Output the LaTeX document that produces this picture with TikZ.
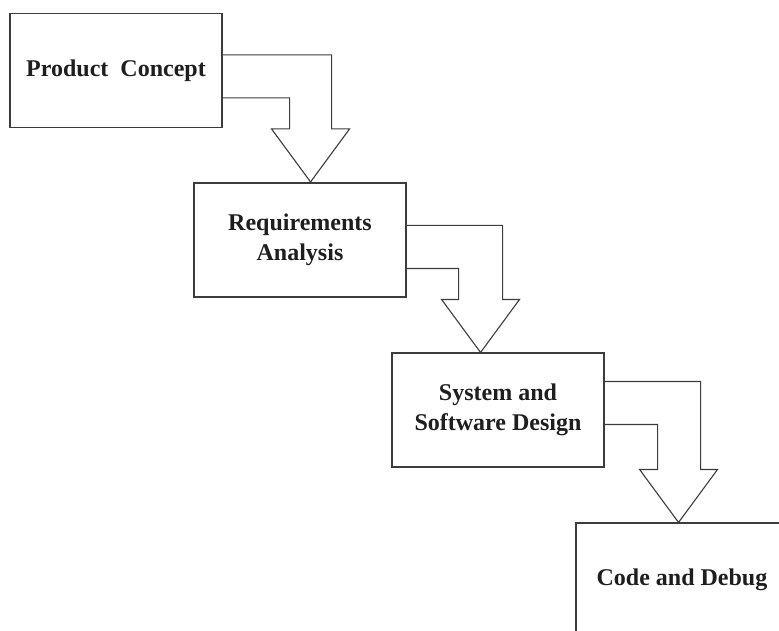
\documentclass[tikz,border=0pt]{standalone}
\usepackage{fontspec}
\setmainfont{Liberation Serif}
\usetikzlibrary{calc}
\definecolor{inkline}{HTML}{3C3C3C}
\definecolor{inktext}{HTML}{1E1E1E}

\begin{document}
\begin{tikzpicture}[x=1pt, y=-1pt,
  stagebox/.style={rectangle, draw=inkline, line width=1.1pt, minimum width=212pt, minimum height=114pt,
    align=center, text=inktext, font=\fontsize{24}{30}\selectfont\bfseries},
  flowarrow/.style={draw=inkline, line width=1.1pt, line join=miter},
]
\useasboundingbox (0,0) rectangle (779,631);
\clip (0,0) rectangle (779,631);

% STAGES
\node[stagebox] (b1) at (116,70.5) {Product\ \ Concept};
\node[stagebox] (b2) at (300,240) {Requirements\\Analysis};
\node[stagebox] (b3) at (498,410) {System and\\Software Design};
\node[stagebox] (b4) at (682,580) {Code and Debug};

% BENT BLOCK ARROWS
\draw[flowarrow] ($(b1.north east)+(0,42)$) -- ++(109,0) -- ++(0,74) -- ++(18,0)
  -- ++(-39,53) -- ++(-39,-53) -- ++(18,0) |- ($(b1.north east)+(0,85)$);
\draw[flowarrow] ($(b2.north east)+(0,43)$) -- ++(96,0) -- ++(0,74) -- ++(17,0)
  -- ++(-39,53) -- ++(-39,-53) -- ++(17,0) |- ($(b2.north east)+(0,86)$);
\draw[flowarrow] ($(b3.north east)+(0,29)$) -- ++(96,0) -- ++(0,88) -- ++(17,0)
  -- ++(-39,53) -- ++(-39,-53) -- ++(18,0) |- ($(b3.north east)+(0,72)$);

\end{tikzpicture}
\end{document}
